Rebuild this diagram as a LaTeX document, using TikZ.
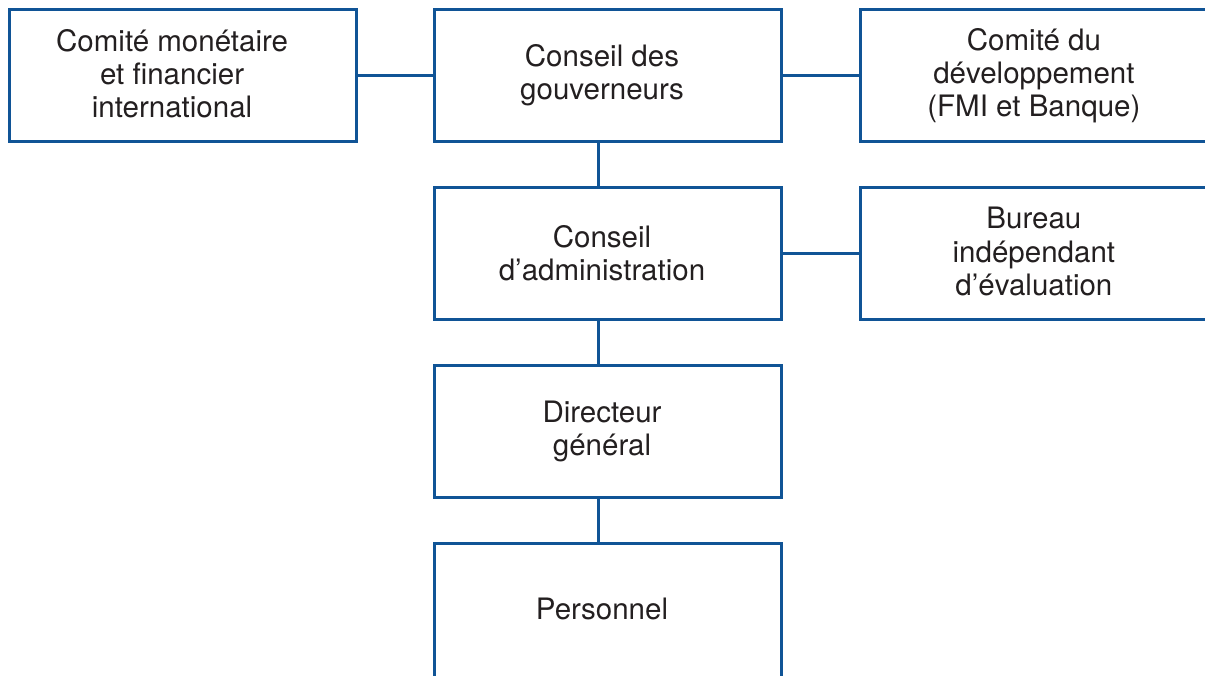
\documentclass[tikz,border=0pt]{standalone}
\usepackage{fontspec}
\setmainfont{TeX Gyre Heros}
\usetikzlibrary{positioning}
\definecolor{imfblue}{RGB}{16,84,150}
\definecolor{inkgray}{RGB}{35,31,32}

\begin{document}
\begin{tikzpicture}[
  x=0.02cm, y=-0.02cm,
  box/.style={draw=imfblue, line width=0.06cm, minimum width=6.94cm, minimum height=2.64cm},
  lbl/.style={text=inkgray, align=center, font=\fontsize{16.8}{18.8}\selectfont},
  link/.style={draw=imfblue, line width=0.06cm}
  ]
  \useasboundingbox (0,0) rectangle (1205,676);
  \clip (0,0) rectangle (1205,676);

  \node[box] (NGouv) at (608,75.5) {};
  \node[box, left=1.5cm of NGouv] (NCmfi) {};
  \node[box, right=1.52cm of NGouv] (NDev) {};
  \node[box, below=0.86cm of NGouv] (NAdmin) {};
  \node[box, right=1.52cm of NAdmin] (NBei) {};
  \node[box, below=0.86cm of NAdmin] (NDir) {};
  \node[box, below=0.86cm of NDir, minimum height=3.2cm] (NPers) {};

  \path (NCmfi) ++(-11,-2) node[lbl] (NCmfiTxt) {Comité monétaire\\et financier\\international};
  \path (NGouv) ++(-6,0) node[lbl] (NGouvTxt) {Conseil des\\gouverneurs};
  \path (NDev) ++(0,0) node[lbl] (NDevTxt) {Comité du\\développement\\(FMI et Banque)};
  \path (NAdmin) ++(-6,0) node[lbl] (NAdminTxt) {Conseil\\d’administration};
  \path (NBei) ++(0,-2) node[lbl] (NBeiTxt) {Bureau\\indépendant\\d’évaluation};
  \path (NDir) ++(-6,0) node[lbl] (NDirTxt) {Directeur\\général};
  \path (NDir) ++(-6,178) node[lbl] (NPersTxt) {Personnel};

  \path[link]
  (NCmfi.east) -- (NGouv.west)
  (NGouv.east) -- (NDev.west)
  (NAdmin.east) -- (NBei.west)
  ([xshift=-0.2cm]NGouv.south) -- ([xshift=-0.2cm]NAdmin.north)
  ([xshift=-0.2cm]NAdmin.south) -- ([xshift=-0.2cm]NDir.north)
  ([xshift=-0.2cm]NDir.south) -- ([xshift=-0.2cm]NPers.north)
  ;
\end{tikzpicture}
\end{document}
